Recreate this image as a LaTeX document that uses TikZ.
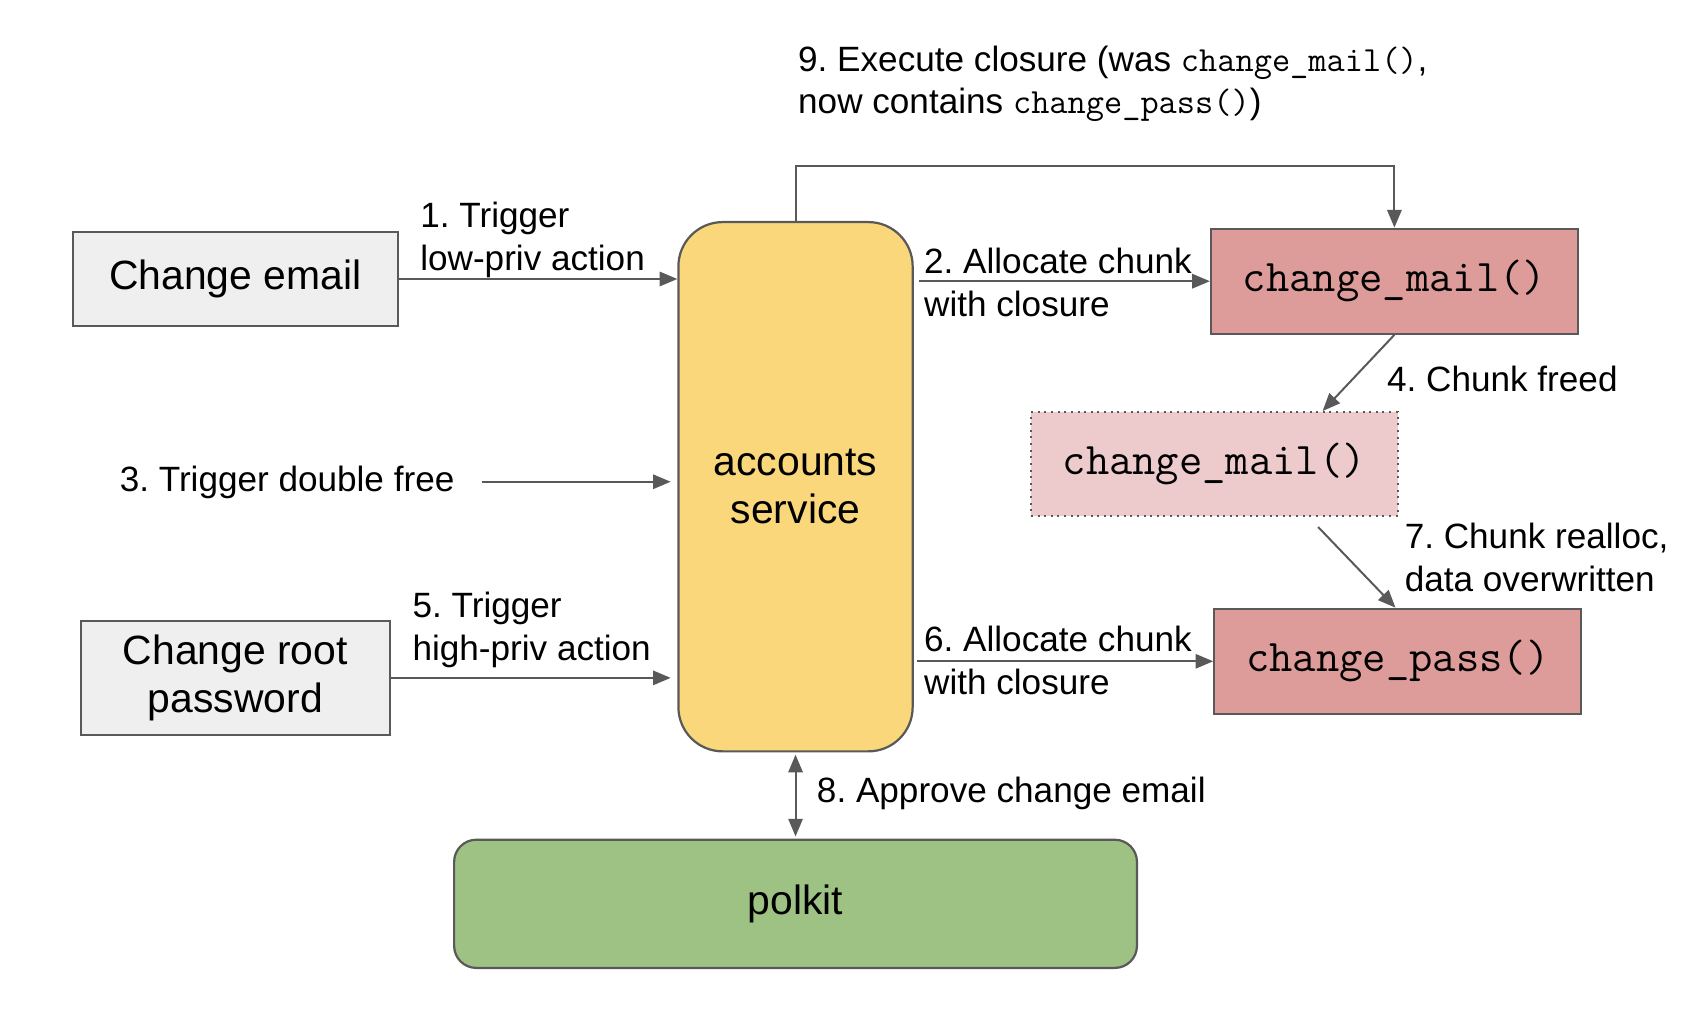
\documentclass[tikz,border=0pt]{standalone}
\usepackage{fontspec}
\setmainfont{Liberation Sans}
\usetikzlibrary{arrows.meta,calc}
\definecolor{edgegray}{HTML}{595959}
\definecolor{boxgray}{HTML}{EFEFEF}
\definecolor{accyellow}{HTML}{F9D77A}
\definecolor{chunkred}{HTML}{DD9C9A}
\definecolor{freedred}{HTML}{EDCBCD}
\definecolor{pkgreen}{HTML}{9EC284}
\tikzset{
  box/.style={draw=edgegray, line width=1pt, fill=boxgray, inner sep=0pt, align=center,
    font=\fontsize{18.5}{22}\selectfont},
  accbox/.style={box, fill=accyellow, rounded corners=20pt},
  pkbox/.style={box, fill=pkgreen, rounded corners=10pt},
  chunk/.style={box, fill=chunkred, font=\fontsize{20.5}{22}\selectfont\ttfamily},
  freed/.style={chunk, fill=freedred, dash pattern=on 0.9pt off 2.1pt},
  lbl/.style={inner sep=0pt, anchor=west, align=left, font=\fontsize{15.9}{19.5}\selectfont},
  conn/.style={draw=edgegray, line width=0.9pt, -{Triangle[length=8pt,width=6.5pt]}},
  conn2/.style={draw=edgegray, line width=0.9pt, {Triangle[length=8pt,width=6.5pt]}-{Triangle[length=8pt,width=6.5pt]}},
}
\begin{document}
\frenchspacing
\begin{tikzpicture}[x=0.5pt,y=-0.5pt]
\useasboundingbox (0,0) rectangle (1544,932);
% nodes
\node[box, minimum width=147pt, minimum height=42.5pt] (ce) at (213,252.5) {Change email};
\node[box, minimum width=140pt, minimum height=51.5pt] (crp) at (213,613.5) {Change root\\password};
\node[accbox, minimum width=106pt, minimum height=239.5pt, font=\fontsize{18.5}{21.5}\selectfont] (acc) at (720,440.5) {accounts\\service};
\node[chunk, minimum width=166pt, minimum height=47.5pt] (cm1) at (1262,254.5) {change\_mail()};
\node[freed, minimum width=166pt, minimum height=47pt] (cmf) at (1099,420) {change\_mail()};
\node[chunk, minimum width=166pt, minimum height=47.5pt] (cp) at (1265,598.5) {change\_pass()};
\node[pkbox, minimum width=309pt, minimum height=58pt] (pk) at (720,818) {polkit};
% labels
\node[lbl] (l1) at (380,217.5) {1. Trigger\\low-priv action};
\node[lbl] (l2) at (836,255.5) {2. Allocate chunk\\with closure};
\node[lbl] (l3) at (108,437) {3. Trigger double free};
\node[lbl] (l4) at (1255,343) {4. Chunk freed};
\node[lbl] (l5) at (373,570.5) {5. Trigger\\high-priv action};
\node[lbl] (l6) at (836,598) {6. Allocate chunk\\with closure};
\node[lbl] (l7) at (1271,504.5) {7. Chunk realloc,\\data overwritten};
\node[lbl] (l8) at (739,718) {8. Approve change email};
\node[lbl, font=\fontsize{15.9}{19}\selectfont] (l9) at (722,76) {9. Execute closure (was {\fontsize{16}{19}\selectfont\ttfamily change\_mail()},\\now contains {\fontsize{16}{19}\selectfont\ttfamily change\_pass()})};
% connectors
\coordinate (s3) at (436,436);
\draw[conn] (ce.east) -- (ce.east -| acc.west);
\draw[conn, shorten <=2.5pt] (acc.east |- cm1.west) -- (cm1.west);
\draw[conn, shorten >=3pt] (s3) -- (s3 -| acc.west);
\draw[conn] (cm1.south) -- ($(cmf.north)+(98,0)$);
\draw[conn, shorten >=3pt] (crp.east) -- (crp.east -| acc.west);
\draw[conn, shorten <=1.5pt] (acc.east |- cp.west) -- (cp.west);
\draw[conn] ($(cmf.south)+(94,9)$) -- ($(cp.north)+(-2,0)$);
\draw[conn2, shorten <=1pt, shorten >=1pt] (acc.south) -- (pk.north);
\draw[conn] (acc.north) -- ++(0,-50) -| (cm1.north);
\end{tikzpicture}
\end{document}
